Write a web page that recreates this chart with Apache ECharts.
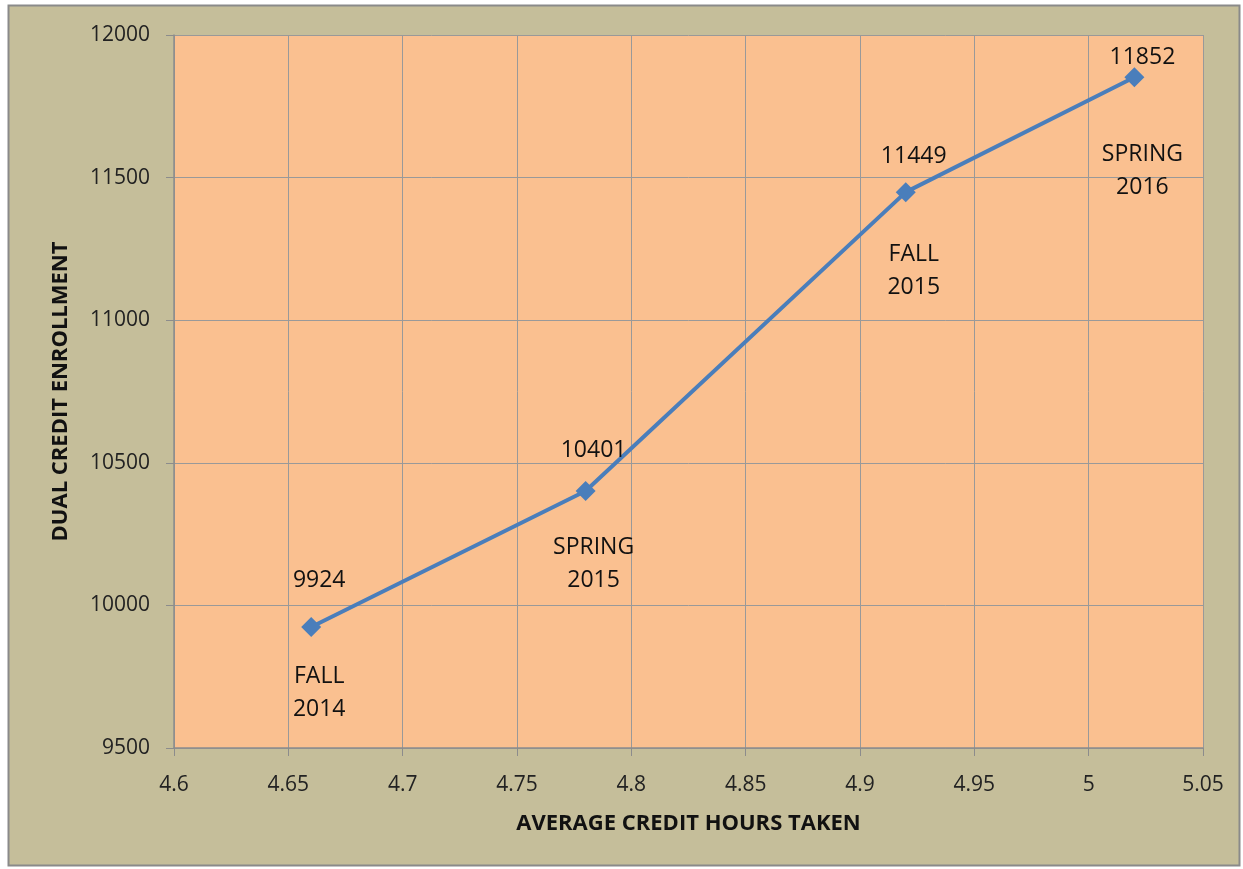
<!DOCTYPE html>
<html><head><meta charset="utf-8">
<script src="https://cdn.jsdelivr.net/npm/echarts@6/dist/echarts.min.js"></script>
<style>html,body{margin:0;padding:0;background:#fff}#c{width:1243px;height:869px}</style>
</head><body><div id="c"></div>
<script>
const xValues = [4.66, 4.78, 4.92, 5.02];
const yValues = [9924, 10401, 11449, 11852];
const terms = ['FALL\n2014', 'SPRING\n2015', 'FALL\n2015', 'SPRING\n2016'];
const xTitle = 'AVERAGE CREDIT HOURS TAKEN';
const yTitle = 'DUAL CREDIT ENROLLMENT';

const topOffsets = [-47, -41, -36, -20];
const bottomOffsets = [66, 73, 79, 94];

const font = 'Open Sans';
const chart = echarts.init(document.getElementById('c'));
const pts = xValues.map((x, i) => [x, yValues[i]]);
chart.setOption({
  animation: false,
  backgroundColor: '#fff',
  graphic: [{
    type: 'rect', z: -10, shape: {x: 8.5, y: 5.5, width: 1231, height: 860},
    style: {fill: '#C5BE9A', stroke: '#8a8a8a', lineWidth: 2}
  }],
  grid: {left: 174, right: 40, top: 35, bottom: 121, show: true, backgroundColor: '#FAC090', borderWidth: 0},
  xAxis: {
    type: 'value', min: 4.6, max: 5.05, interval: 0.05,
    name: xTitle, nameLocation: 'middle', nameGap: 65,
    nameTextStyle: {fontFamily: font, fontWeight: 'bold', fontSize: 22, color: '#111'},
    axisLine: {show: true, lineStyle: {color: '#8c8c8c', width: 1.5}},
    axisTick: {show: true, length: 8, lineStyle: {color: '#8c8c8c'}},
    axisLabel: {fontFamily: font, fontSize: 21, color: '#222', margin: 27,
      formatter: v => String(parseFloat(v.toFixed(2)))},
    splitLine: {show: true, lineStyle: {color: '#999999', width: 1}}
  },
  yAxis: {
    type: 'value', min: 9500, max: 12000, interval: 500,
    name: yTitle, nameLocation: 'middle', nameGap: 102, nameRotate: 90,
    nameTextStyle: {fontFamily: font, fontWeight: 'bold', fontSize: 22, color: '#111'},
    axisLine: {show: true, lineStyle: {color: '#8c8c8c', width: 1.5}},
    axisTick: {show: true, length: 8, lineStyle: {color: '#8c8c8c'}},
    axisLabel: {fontFamily: font, fontSize: 21, color: '#222', margin: 24,
      formatter: v => String(v)},
    splitLine: {show: true, lineStyle: {color: '#999999', width: 1}}
  },
  series: [{
    type: 'line', data: pts.map((p, i) => ({value: p, label: {offset: [8, topOffsets[i]]}})),
    symbol: 'diamond', symbolSize: 20,
    lineStyle: {color: '#4A7EBB', width: 4},
    itemStyle: {color: '#4A7EBB'},
    label: {show: true, position: 'inside', fontFamily: font, fontSize: 23, color: '#111',
      formatter: p => String(p.value[1])}
  }, {
    type: 'scatter', data: pts.map((p, i) => ({value: p, label: {offset: [8, bottomOffsets[i]]}})),
    symbolSize: 0, silent: true, itemStyle: {opacity: 1, color: 'transparent'},
    label: {show: true, position: 'inside', fontFamily: font, fontSize: 23, color: '#111', lineHeight: 33,
      opacity: 1, formatter: p => terms[p.dataIndex]}
  }]
});
</script></body></html>
